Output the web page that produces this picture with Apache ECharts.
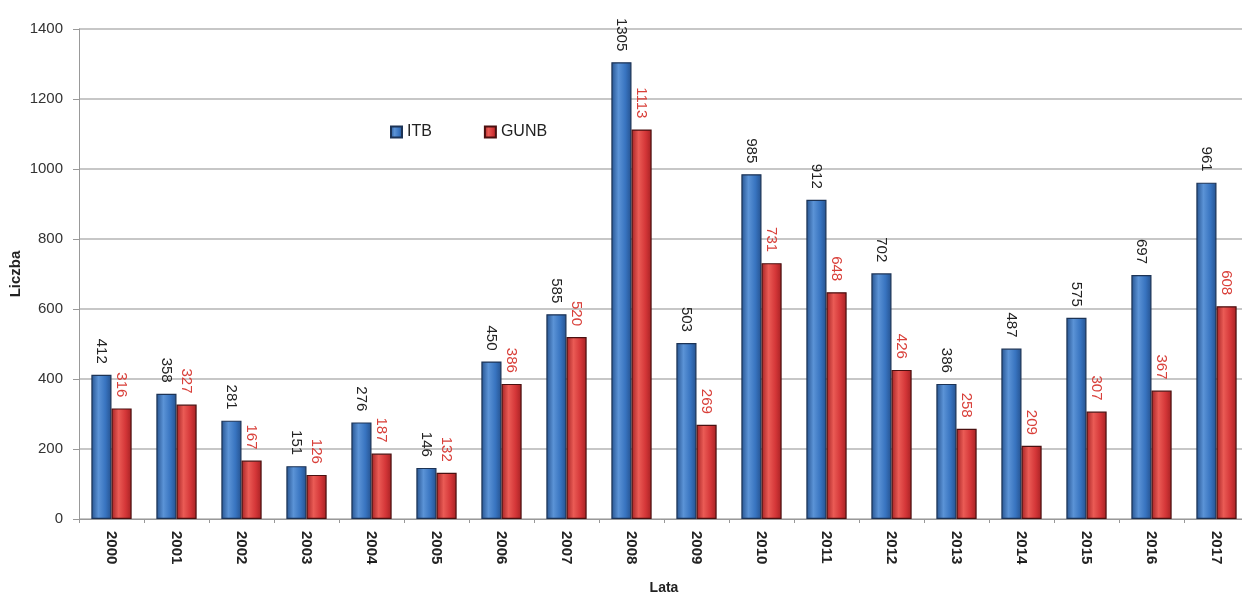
<!DOCTYPE html>
<html><head><meta charset="utf-8">
<script src="https://cdn.jsdelivr.net/npm/echarts@6/dist/echarts.min.js"></script>
<style>html,body{margin:0;padding:0;background:#fff}#c{width:1242px;height:594px}</style>
</head><body><div id="c"></div>
<script>
const years = ['2000','2001','2002','2003','2004','2005','2006','2007','2008','2009','2010','2011','2012','2013','2014','2015','2016','2017'];
const itb = [412,358,281,151,276,146,450,585,1305,503,985,912,702,386,487,575,697,961];
const gunb = [316,327,167,126,187,132,386,520,1113,269,731,648,426,258,209,307,367,608];
const yTicks = [0,200,400,600,800,1000,1200,1400];

const FONT = 'Liberation Sans';
const chart = echarts.init(document.getElementById('c'));
function grad(dark, mid, light){
  return new echarts.graphic.LinearGradient(0,0,1,0,[
    {offset:0,color:dark},{offset:0.35,color:light},{offset:0.7,color:mid},{offset:1,color:dark}]);
}
chart.setOption({
  animation:false,
  textStyle:{fontFamily:FONT},
  grid:{left:79,top:29,bottom:75,width:1170,containLabel:false,outerBoundsMode:'none'},
  legend:{
    left:385, top:119, itemWidth:11, itemHeight:11, itemGap:52,
    icon:'rect',
    textStyle:{fontSize:16,color:'#222',fontFamily:FONT},
    data:['ITB','GUNB']
  },
  xAxis:{
    type:'category', data:years,
    name:'Lata', nameLocation:'middle', nameGap:62,
    nameTextStyle:{fontWeight:'bold',fontSize:14,color:'#222'},
    axisLine:{lineStyle:{color:'#999'}},
    axisTick:{show:true,alignWithLabel:false,length:4,lineStyle:{color:'#999'}},
    axisLabel:{rotate:-90,fontWeight:'bold',fontSize:15,color:'#222',margin:12}
  },
  yAxis:{
    type:'value', min:0, max:1400, interval:200,
    name:'Liczba', nameLocation:'middle', nameGap:56, nameMoveOverlap:false,
    nameTextStyle:{fontWeight:'bold',fontSize:15,color:'#222'},
    axisLine:{show:true,lineStyle:{color:'#999'}},
    axisTick:{show:true,length:6,lineStyle:{color:'#999'}},
    axisLabel:{fontSize:15,color:'#333',margin:16,formatter:v=>yTicks.includes(v)?String(v):''},
    splitLine:{lineStyle:{color:'#b5b5b5',width:1.5}}
  },
  series:[
    {name:'ITB',type:'bar',data:itb,barGap:'0%',barCategoryGap:'38%',
     itemStyle:{color:grad('#25528f','#3874c0','#5b93d6'),borderColor:'#1c3355',borderWidth:1.2},
     label:{show:true,position:'top',rotate:-90,align:'right',verticalAlign:'middle',distance:11,
            fontSize:15,color:'#222',fontFamily:FONT}},
    {name:'GUNB',type:'bar',data:gunb,
     itemStyle:{color:grad('#a52224','#d43638','#ea5b55'),borderColor:'#4a1010',borderWidth:1.2},
     label:{show:true,position:'top',rotate:-90,align:'right',verticalAlign:'middle',distance:11,
            fontSize:15,color:'#d9403a',fontFamily:FONT}}
  ]
});
</script></body></html>
